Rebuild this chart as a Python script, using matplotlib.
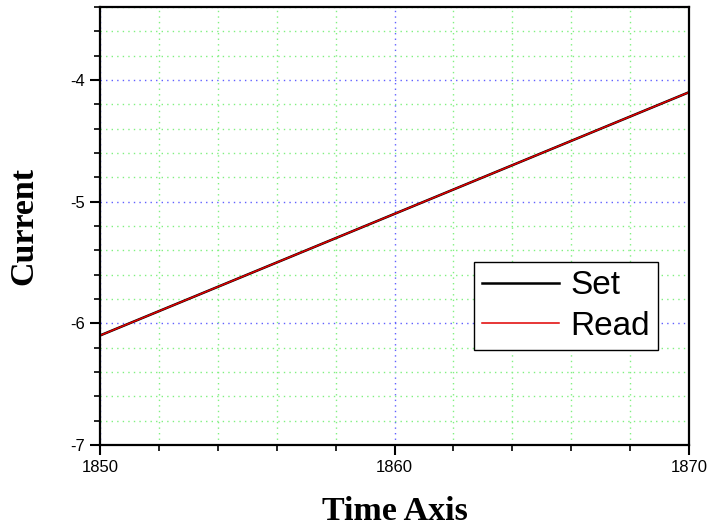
import numpy as np
from matplotlib import pyplot as plt
from matplotlib.ticker import MultipleLocator

plt.rcParams['axes.unicode_minus'] = False

# datos
tiempo = [1850, 1855, 1860, 1865, 1870]
set_vals = [-6.1, -5.6, -5.1, -4.6, -4.1]
read_vals = [-6.1, -5.6, -5.1, -4.6, -4.1]

fig = plt.figure(figsize=(7.09, 5.27), dpi=100)
ax = fig.add_axes([0.141, 0.1556, 0.831, 0.8311])

ax.plot(tiempo, set_vals, color='black', lw=1.8, label='Set')
ax.plot(tiempo, read_vals, color='#e00000', lw=1.1, label='Read')

ax.set_xlim(1850, 1870)
ax.set_ylim(-7, -3.4)
ax.xaxis.set_major_locator(MultipleLocator(10))
ax.xaxis.set_minor_locator(MultipleLocator(2))
ax.yaxis.set_major_locator(MultipleLocator(1))
ax.yaxis.set_minor_locator(MultipleLocator(0.2))

ax.grid(which='major', color='#6060ff', ls=(0, (1, 3)), lw=1.0)
ax.grid(which='minor', color='#80f080', ls=(0, (1, 3)), lw=1.0)
ax.set_axisbelow(True)

for s in ax.spines.values():
  s.set_linewidth(1.6)
ax.tick_params(which='major', direction='out', length=7, width=1.5, labelsize=12, pad=4)
ax.tick_params(which='minor', direction='out', length=4, width=1.2)
for lab in ax.get_xticklabels() + ax.get_yticklabels():
  lab.set_fontfamily('Liberation Sans')

ax.set_xlabel('Time Axis', fontsize=24.5, fontweight='bold', fontfamily='Liberation Serif')
ax.set_ylabel('Current', fontsize=24.5, fontweight='bold', fontfamily='Liberation Serif')
ax.xaxis.set_label_coords(0.5, -0.116)
ax.yaxis.set_label_coords(-0.102, 0.5)

leg = ax.legend(loc='upper left', bbox_to_anchor=(0.635, 0.418), prop={'family': 'Liberation Sans', 'size': 24},
                frameon=True, fancybox=False, framealpha=1, edgecolor='black', handlelength=2.3,
                handletextpad=0.33, borderpad=0.25, labelspacing=0.28, borderaxespad=0)
leg.get_frame().set_linewidth(1.0)

fig.savefig('out.png', dpi=100)
